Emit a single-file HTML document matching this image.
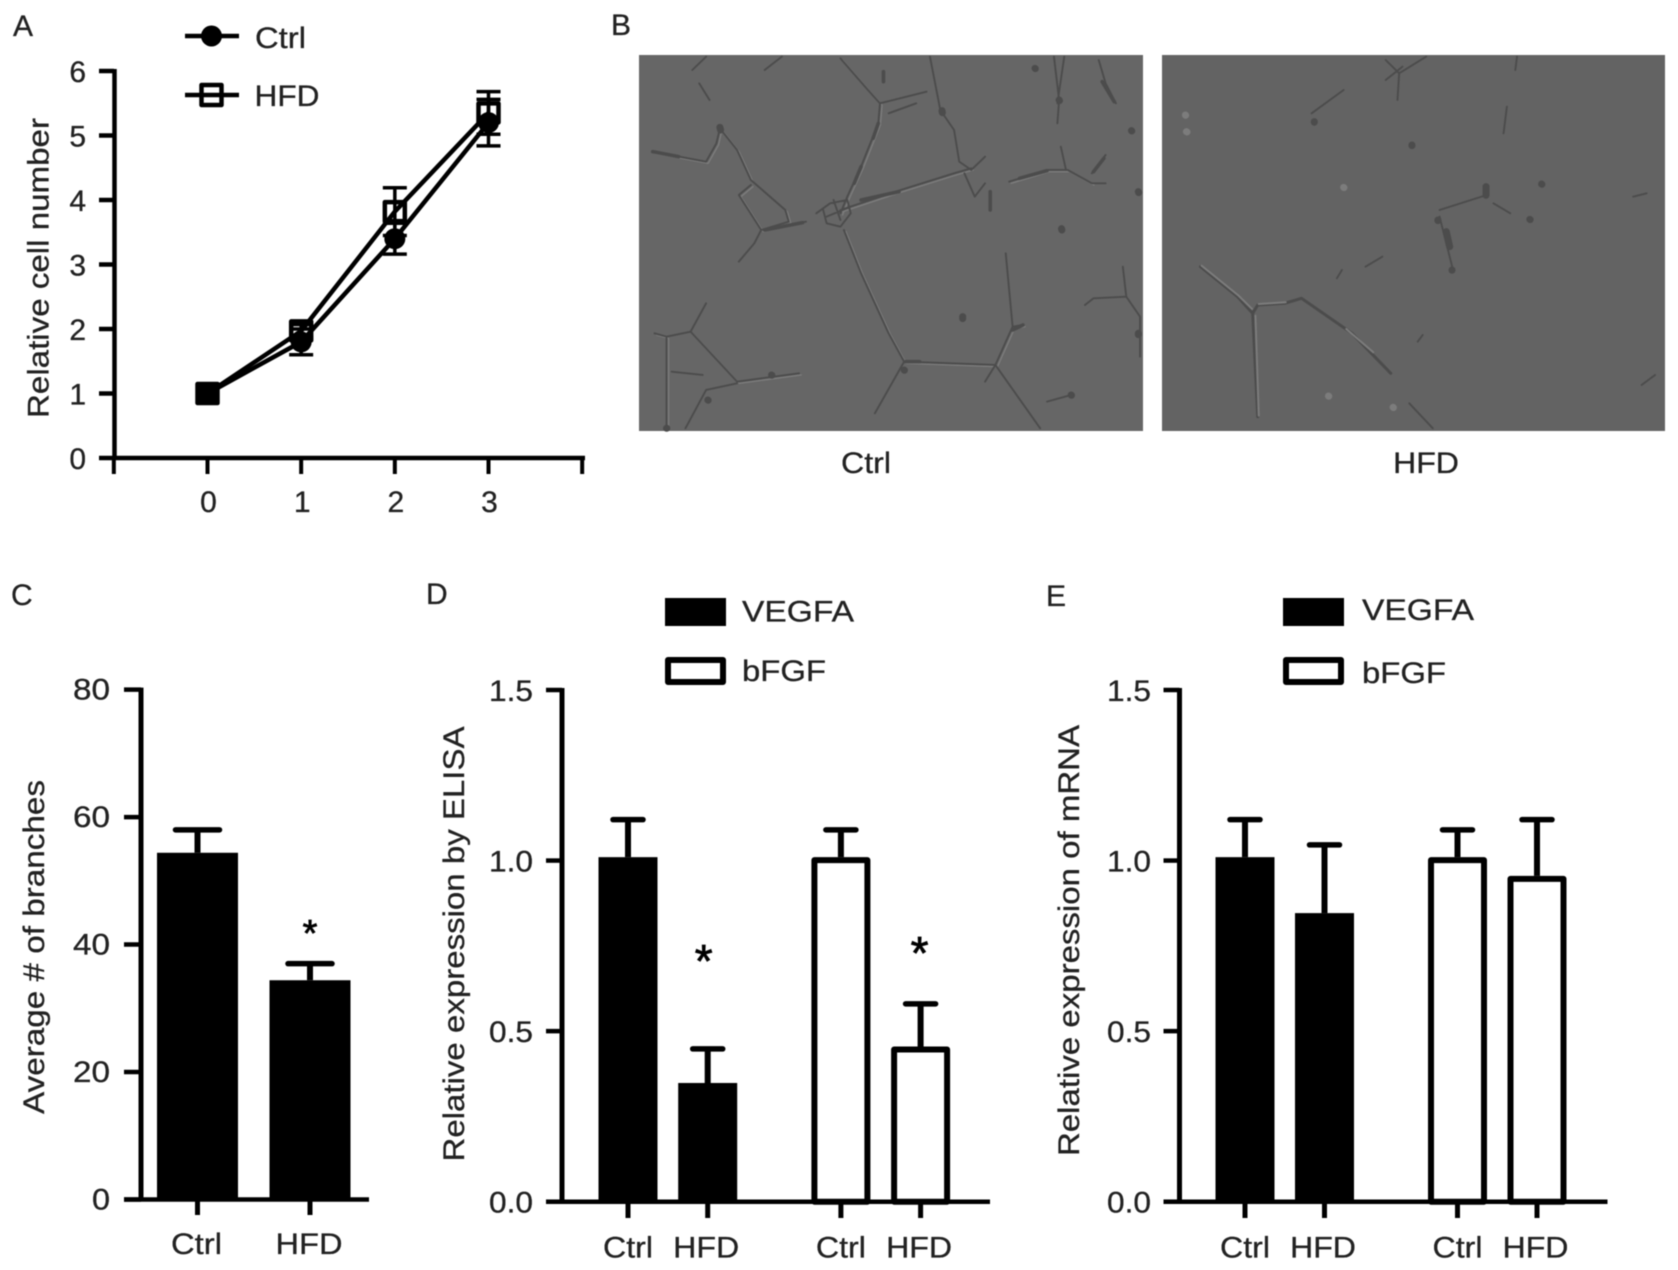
<!DOCTYPE html>
<html lang="en">
<head>
<meta charset="utf-8">
<title>Cell proliferation, tube formation and VEGFA / bFGF expression</title>
<style>
html,body{margin:0;padding:0;background:#fff;width:1678px;height:1270px;overflow:hidden}
svg{display:block;filter:blur(.55px)}
text{font-family:"Liberation Sans",Arial,sans-serif;fill:#222;stroke:#222;stroke-width:.3px;font-size:30px}
.cell{fill:none;stroke:#4c4c4c;stroke-linecap:round;stroke-linejoin:round;vector-effect:non-scaling-stroke}
.cell-light{fill:none;stroke:#7c7c7c;stroke-linecap:round;stroke-linejoin:round;vector-effect:non-scaling-stroke}
.soft{filter:blur(.9px)}
</style>
</head>
<body>
<svg id="figure" xmlns="http://www.w3.org/2000/svg" width="1678" height="1270" viewBox="0 0 1678 1270">
  <rect width="1678" height="1270" fill="#fff"/>

  <g>
    <text x="13" y="36">A</text>
    <text x="611" y="35">B</text>
    <text x="11" y="605">C</text>
    <text x="426" y="604">D</text>
    <text x="1046" y="606">E</text>
  </g>

  <g>
    <rect x="639" y="55" width="504" height="376" fill="#666666"/>
    <g class="soft" transform="translate(620,40) scale(.3444,.3333)">
      <path class="cell-light" stroke-width="1.4" transform="translate(6,5)" d="M640 55L720 150L755 190L750 250L700 380L660 470L640 520M640 510L800 455L970 400L1020 385M95 335L250 365L280 310L290 265L340 330L380 420L480 510L490 545L410 570L345 465L380 435M650 570L700 700L780 880L825 965L1090 975L1140 860L1170 855M205 875L340 1025L520 1000M100 880L135 890L135 1165M1130 425L1240 390L1300 390L1370 430"/>
      <path class="cell" stroke-width="1.9" d="M640 55L720 150L755 190L750 250L700 380L660 470L640 520M755 190L890 155M780 220L860 190M900 50L930 210L970 270L985 365L1020 390L1060 350M640 510L800 455L970 400L1020 385M1130 425L1240 390L1300 390L1370 430L1410 430M1370 400L1410 345M1280 320L1295 390M1260 50L1275 180L1270 250M1290 50L1270 190M1390 60L1410 130L1440 190M95 335L250 365L280 310L290 265L340 330L380 420L480 510L490 545L410 570L345 465L380 435M410 570L390 610L345 665M410 570L540 545M650 570L700 700L780 880L825 965L1090 975L1140 860L1170 855M825 965L740 1120M1120 640L1140 860M1090 975L1220 1165M1060 1025L1090 975M100 880L135 890L135 1165M135 890L205 875L250 790M205 875L340 1025L520 1000M340 1030L250 1050L190 1165M150 995L240 1005M1350 795L1375 775L1470 770L1510 830L1510 950M1460 680L1470 770M1240 1085L1310 1065M570 520L610 490L660 480L670 520L640 560L600 550L590 510M620 480L640 540M600 530L670 500M1000 400L1030 470L1060 430M250 50L210 90M420 90L470 50M230 130L260 180"/>
      <path class="cell" stroke-width="3.6" d="M750 250L735 295M700 380L680 430M700 480L810 455M420 570L530 548M1160 415L1240 392M1075 455L1075 510M1400 125L1435 185M1375 395L1405 355M95 335L170 350M765 95L765 125M1140 870L1170 855M830 965L870 965"/>
      <path class="cell" stroke-width="7" stroke="#3a3a3a" d="M290 262L292 270M935 212L936 218M1275 180L1276 182M1205 85L1206 86M1485 272L1486 273M1505 455L1506 458M1282 566L1283 570M995 830L995 836M825 990L826 991M440 1005L441 1006M255 1080L256 1081M135 1165L136 1165M1310 1065L1311 1066M1505 880L1505 884"/>
    </g>
  </g>

  <g>
    <rect x="1162" y="55" width="503" height="376" fill="#636363"/>
    <g class="soft" transform="translate(1150,40) scale(.3367,.3333)">
      <path class="cell" stroke-width="3" d="M150 680L260 770L305 820L320 1130M305 820L320 795L400 790L450 775L600 880L715 1000"/>
      <path class="cell-light" stroke-width="2" transform="translate(3,-3)" d="M150 680L260 770L300 810M310 830L320 1130M320 795L400 790M580 870L660 940"/>
      <path class="cell" stroke-width="1.9" d="M700 60L740 100L820 50M740 100L735 180M700 120L750 80M480 220L575 150M1090 50L1085 90M1060 200L1050 280M860 510L1000 465M860 530L900 690M1020 490L1070 520M1435 470L1475 460M770 1090L840 1165M1460 1035L1500 1005M640 680L690 650M555 715L570 690M795 905L810 885"/>
      <path class="cell" stroke-width="7" stroke="#3a3a3a" d="M998 440L998 466M1163 432L1164 433M1128 538L1129 539M778 315L778 317M488 245L488 247M897 690L897 691M855 540L855 542M880 575L890 620"/>
      <path class="cell-light" stroke-width="7" stroke="#8c8c8c" d="M108 275L110 276M105 225L106 226M530 1068L531 1069M722 1102L723 1103M575 442L576 443"/>
    </g>
  </g>
  <text x="866" y="473" text-anchor="middle" textLength="50" lengthAdjust="spacingAndGlyphs">Ctrl</text>
  <text x="1426" y="473" text-anchor="middle" textLength="66" lengthAdjust="spacingAndGlyphs">HFD</text>
  <g id="charts"></g>
</svg>

<script>
// ---- chart data ----
const aDays = [0, 1, 2, 3];
const aYTicks = [0, 1, 2, 3, 4, 5, 6];
const aCtrl = [1, 1.8, 3.4, 5.2];
const aCtrlErr = [0, 0.2, 0.24, 0.36];
const aHfd = [1, 1.97, 3.82, 5.35];
const aHfdErr = [0, 0.1, 0.37, 0.33];

const cCategories = ['Ctrl', 'HFD'];
const cYTicks = [0, 20, 40, 60, 80];
const cValues = [54.4, 34.4];
const cErrors = [3.6, 2.6];

const deCategories = ['Ctrl', 'HFD', 'Ctrl', 'HFD'];
const deSeries = ['VEGFA', 'VEGFA', 'bFGF', 'bFGF'];
const deYTickLabels = ['0.0', '0.5', '1.0', '1.5'];
const deYTicks = [0, 0.5, 1, 1.5];
const dValues = [1.01, 0.348, 1.01, 0.455];
const dErrors = [0.11, 0.1, 0.08, 0.125];
const dStars = [false, true, false, true];
const eValues = [1.01, 0.846, 1.01, 0.955];
const eErrors = [0.11, 0.2, 0.08, 0.165];

// ---- drawing helpers ----
const NS = 'http://www.w3.org/2000/svg';
const root = document.getElementById('charts');
const INK = '#000';

function group(parent, name) {
  const el = document.createElementNS(NS, 'g');
  
  
  parent.appendChild(el);
  return el;
}
function line(parent, name, x1, y1, x2, y2, width, cap) {
  const el = document.createElementNS(NS, 'line');
  
  
  el.setAttribute('x1', x1);
  el.setAttribute('y1', y1);
  el.setAttribute('x2', x2);
  el.setAttribute('y2', y2);
  el.setAttribute('stroke', INK);
  el.setAttribute('stroke-width', width);
  el.setAttribute('stroke-linecap', cap || 'butt');
  parent.appendChild(el);
  return el;
}
function rect(parent, name, x, y, w, h, fill, stroke, sw) {
  const el = document.createElementNS(NS, 'rect');
  
  
  el.setAttribute('x', x);
  el.setAttribute('y', y);
  el.setAttribute('width', w);
  el.setAttribute('height', h);
  el.setAttribute('fill', fill);
  if (stroke) {
    el.setAttribute('stroke', stroke);
    el.setAttribute('stroke-width', sw);
    el.setAttribute('stroke-linejoin', 'round');
  }
  parent.appendChild(el);
  return el;
}
function label(parent, name, str, x, y, anchor, len, rot) {
  const el = document.createElementNS(NS, 'text');
  
  
  el.setAttribute('x', x);
  el.setAttribute('y', y);
  el.setAttribute('text-anchor', anchor || 'start');
  if (len) {
    el.setAttribute('textLength', len);
    el.setAttribute('lengthAdjust', 'spacingAndGlyphs');
  }
  if (rot) el.setAttribute('transform', 'rotate(-90 ' + x + ' ' + y + ')');
  el.textContent = str;
  parent.appendChild(el);
  return el;
}
function star(parent, name, x, y, size) {
  const el = document.createElementNS(NS, 'text');
  
  
  el.setAttribute('x', x);
  el.setAttribute('y', y);
  el.setAttribute('text-anchor', 'middle');
  el.style.fontSize = size + 'px';
  el.style.fill = INK;
  el.style.stroke = INK;
  el.style.strokeWidth = '.8px';
  el.textContent = '*';
  parent.appendChild(el);
  return el;
}
function linear(d0, d1, r0, r1) {
  return function (v) { return r0 + (v - d0) / (d1 - d0) * (r1 - r0); };
}

// ---- panel A : line chart ----
(function () {
  const g = group(root, 'panel-a-line-chart');
  const xA = linear(0, 3, 207.5, 488.5);
  const yA = linear(0, 6, 458, 71);
  const xAxisG = group(g, 'x-axis');
  line(xAxisG, 'x-axis-line', 112.5, yA(0), 585, yA(0), 4.5);
  line(xAxisG, 'x-axis-end-tick-left', xA(-1), yA(0), xA(-1), 474, 4);
  line(xAxisG, 'x-axis-end-tick-right', xA(4), yA(0), xA(4), 474, 4);
  aDays.forEach(function (d) {
    line(xAxisG, 'x-tick-' + d, xA(d), yA(0), xA(d), 474, 4);
    label(xAxisG, 'x-tick-label-' + d, String(d), xA(d) + 1, 512, 'middle');
  });
  const yAxisG = group(g, 'y-axis');
  line(yAxisG, 'y-axis-line', 114.5, yA(6) - 2, 114.5, yA(0) + 2, 4.5);
  aYTicks.forEach(function (t) {
    line(yAxisG, 'y-tick-' + t, 99, yA(t), 114, yA(t), 4.5);
    label(yAxisG, 'y-tick-label-' + t, String(t), 86, yA(t) + 11, 'end');
  });
  label(g, 'y-axis-title', 'Relative cell number', 48.5, 418, 'start', 300, true);

  function series(name, vals, errs, marker) {
    const s = group(g, 'series-' + name);
    const pts = vals.map(function (v, i) { return xA(aDays[i]) + ',' + yA(v); }).join(' ');
    const pl = document.createElementNS(NS, 'polyline');
    
    
    pl.setAttribute('points', pts);
    pl.setAttribute('fill', 'none');
    pl.setAttribute('stroke', INK);
    pl.setAttribute('stroke-width', 4.5);
    s.appendChild(pl);
    vals.forEach(function (v, i) {
      const x = xA(aDays[i]);
      if (errs[i] > 0) {
        line(s, 'error-stem-' + name + '-' + i, x, yA(v - errs[i]), x, yA(v + errs[i]), 3.5);
        line(s, 'error-cap-low-' + name + '-' + i, x - 12, yA(v - errs[i]), x + 12, yA(v - errs[i]), 3.5);
        line(s, 'error-cap-high-' + name + '-' + i, x - 12, yA(v + errs[i]), x + 12, yA(v + errs[i]), 3.5);
      }
      marker(s, name + '-' + i, x, yA(v));
    });
  }
  function circleMark(parent, name, x, y) {
    const el = document.createElementNS(NS, 'circle');
    
    
    el.setAttribute('cx', x);
    el.setAttribute('cy', y);
    el.setAttribute('r', 10.5);
    el.setAttribute('fill', INK);
    parent.appendChild(el);
  }
  function squareMark(parent, name, x, y) {
    rect(parent, 'point-' + name, x - 10, y - 9.5, 20, 19, 'none', INK, 4.5);
  }
  series('ctrl', aCtrl, aCtrlErr, circleMark);
  series('hfd', aHfd, aHfdErr, squareMark);
  // the coincident day-0 point reads as a solid square
  rect(g, 'point-overlap-day-0', xA(aDays[0]) - 11, yA(aCtrl[0]) - 11, 23, 22, INK);

  const lg = group(g, 'legend');
  line(lg, 'legend-line-ctrl', 185, 36, 239, 36, 4.5);
  circleMark(lg, 'legend-ctrl', 211.5, 36);
  label(lg, 'legend-label-ctrl', 'Ctrl', 255, 48, 'start', 51);
  line(lg, 'legend-line-hfd', 185, 95, 239, 95, 4.5);
  rect(lg, 'legend-marker-hfd', 201.5, 85, 20, 20, 'none', INK, 4.5);
  label(lg, 'legend-label-hfd', 'HFD', 254.5, 106, 'start', 65);
})();

// ---- panel C : bar chart ----
(function () {
  const g = group(root, 'panel-c-bar-chart');
  const xC = linear(0, 1, 197.5, 310);
  const yC = linear(0, 80, 1199.5, 689.6);
  const barW = 81;
  const xAxisG = group(g, 'x-axis');
  line(xAxisG, 'x-axis-line', 124, yC(0), 369, yC(0), 4.5);
  const yAxisG = group(g, 'y-axis');
  line(yAxisG, 'y-axis-line', 141, yC(80) - 2, 141, yC(0) + 2, 5);
  cYTicks.forEach(function (t) {
    line(yAxisG, 'y-tick-' + t, 124, yC(t), 141, yC(t), 4.5);
    label(yAxisG, 'y-tick-label-' + t, String(t), 110, yC(t) + 10, 'end', t === 0 ? 18 : 37);
  });
  label(g, 'y-axis-title', 'Average # of branches', 44, 1114, 'start', 334, true);
  cCategories.forEach(function (c, i) {
    const x = xC(i);
    line(xAxisG, 'x-tick-' + c, x, yC(0), x, 1215, 5);
    label(xAxisG, 'x-tick-label-' + c, c, x - 1, 1254, 'middle', i === 0 ? 51 : 67);
    const top = yC(cValues[i]);
    line(g, 'error-stem-' + c, x, top, x, yC(cValues[i] + cErrors[i]), 6);
    line(g, 'error-cap-' + c, x - 22, yC(cValues[i] + cErrors[i]), x + 22, yC(cValues[i] + cErrors[i]), 5.5, 'round');
    rect(g, 'bar-' + c, x - barW / 2, top, barW, yC(0) - top, INK);
  });
  star(g, 'significance-star-hfd', xC(1), 946, 38);
})();

// ---- panels D and E : grouped bars ----
function groupedPanel(cfg) {
  const g = group(root, cfg.name);
  const xG = function (i) { return cfg.x0 + cfg.step * i + (i >= 2 ? cfg.gap : 0); };
  const yG = linear(0, 1.5, 1201.7, 690);
  const barW = cfg.barW;
  const xAxisG = group(g, 'x-axis');
  line(xAxisG, 'x-axis-line', cfg.axisX - 16, yG(0), cfg.axisEnd, yG(0), 4.5);
  const yAxisG = group(g, 'y-axis');
  line(yAxisG, 'y-axis-line', cfg.axisX, yG(1.5) - 2, cfg.axisX, yG(0) + 2, 5);
  deYTicks.forEach(function (t, i) {
    line(yAxisG, 'y-tick-' + deYTickLabels[i], cfg.axisX - 16, yG(t), cfg.axisX, yG(t), 4.5);
    label(yAxisG, 'y-tick-label-' + deYTickLabels[i], deYTickLabels[i], cfg.labelRight, yG(t) + 11, 'end', 44);
  });
  label(g, 'y-axis-title', cfg.title, cfg.titleX, cfg.titleY, 'start', cfg.titleLen, true);
  deCategories.forEach(function (c, i) {
    const x = xG(i);
    const tag = deSeries[i] + '-' + c;
    line(xAxisG, 'x-tick-' + tag, x, yG(0), x, 1218, 5);
    label(xAxisG, 'x-tick-label-' + tag, c, x + (c === 'HFD' ? -1.5 : 0), 1257.5, 'middle', c === 'Ctrl' ? 50 : 66);
    const v = cfg.values[i];
    const top = yG(v);
    const capY = yG(v + cfg.errors[i]);
    line(g, 'error-stem-' + tag, x, top, x, capY, 6);
    line(g, 'error-cap-' + tag, x - 15, capY, x + 15, capY, 5.5, 'round');
    if (deSeries[i] === 'VEGFA') {
      rect(g, 'bar-' + tag, x - barW / 2, top, barW, yG(0) - top, INK);
    } else {
      rect(g, 'bar-' + tag, x - barW / 2 + 3, top + 3, barW - 6, yG(0) - top - 3, '#fff', INK, 6);
    }
    if (cfg.stars && cfg.stars[i]) {
      star(g, 'significance-star-' + tag, x + cfg.starDx[i], cfg.starY[i], 46);
    }
  });
  const lg = group(g, 'legend');
  rect(lg, 'legend-swatch-vegfa', cfg.legendX, 598, 61, 28, INK);
  label(lg, 'legend-label-vegfa', 'VEGFA', cfg.legendTextX, cfg.legendY1, 'start', 112);
  rect(lg, 'legend-swatch-bfgf', cfg.legendX + 3, 660, 55, 22, '#fff', INK, 6);
  label(lg, 'legend-label-bfgf', 'bFGF', cfg.legendTextX, cfg.legendY2, 'start', 84);
}
groupedPanel({
  name: 'panel-d-bar-chart', values: dValues, errors: dErrors, stars: dStars,
  starDx: [0, -4, 0, -1], starY: [0, 977, 0, 969],
  x0: 628, step: 79.7, gap: 53.5, barW: 59, axisX: 562, axisEnd: 990, labelRight: 533,
  title: 'Relative expression by ELISA', titleX: 464, titleY: 1161.5, titleLen: 435,
  legendX: 665, legendTextX: 742, legendY1: 621.5, legendY2: 681
});
groupedPanel({
  name: 'panel-e-bar-chart', values: eValues, errors: eErrors,
  x0: 1245, step: 79.5, gap: 53.5, barW: 59, axisX: 1179.5, axisEnd: 1607.5, labelRight: 1151,
  title: 'Relative expression of mRNA', titleX: 1079, titleY: 1156, titleLen: 431,
  legendX: 1283, legendTextX: 1362, legendY1: 620, legendY2: 683
});
</script>
</body>
</html>
